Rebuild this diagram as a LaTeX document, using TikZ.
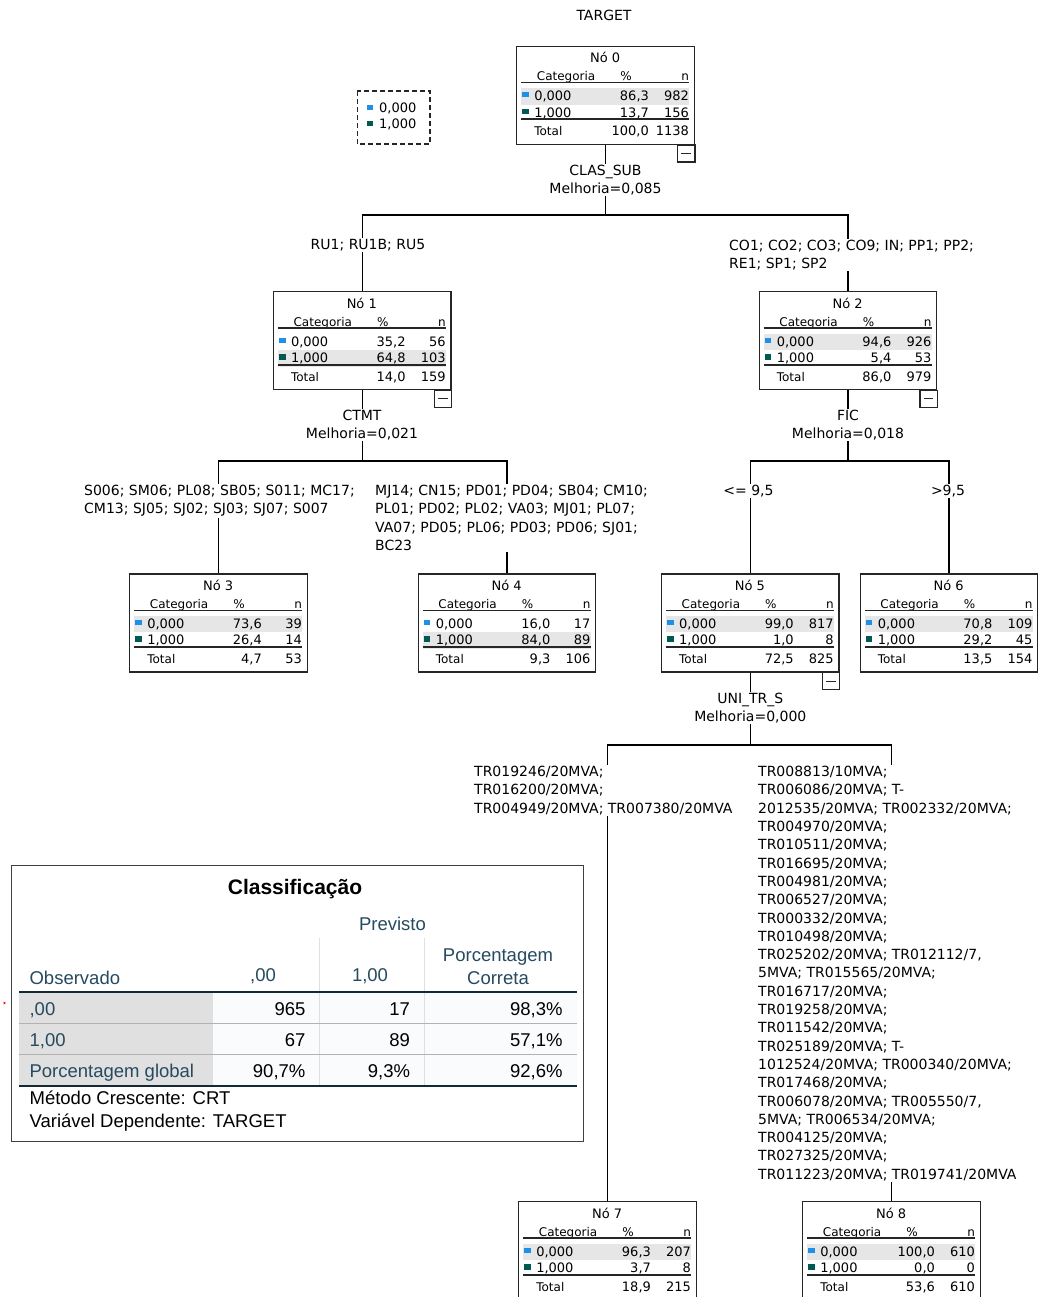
\documentclass[tikz,border=0pt]{standalone}
\usepackage{fontspec}
\setmainfont{Liberation Sans}
\newfontfamily\arvfont{DejaVu Sans}
\usepackage{xcolor}
\usetikzlibrary{calc, positioning}

\definecolor{azulcat}{RGB}{30,144,232}
\definecolor{verdecat}{RGB}{0,90,82}
\definecolor{cinzadest}{RGB}{230,230,230}
\definecolor{azulspss}{RGB}{38,74,96}
\definecolor{linhaspss}{RGB}{21,41,53}
\definecolor{cinzarot}{RGB}{224,224,224}
\definecolor{fundocel}{RGB}{249,251,252}

% nó da árvore: numero, posicao (topo), linha destacada, %/n das categorias, total
\newcommand{\noarv}[9]{%
  \node[caixa] (n#1) at (#2) {};
  \fill[cinzadest] ($(n#1.north west)+(5,{25.9+16.6*#3})$) rectangle ++(168,16.6);
  \node[titno] (n#1-tit) at ($(n#1.north west)+(89,12)$) {Nó #1};
  \node[cab] (n#1-cat) at ($(n#1.north west)+(50,32.5)$) {Categoria};
  \node[cab] (n#1-pc) at ($(n#1.north west)+(110,32.5)$) {\%};
  \node[cab, anchor=mid east] (n#1-n) at ($(n#1.north west)+(173,32.5)$) {n};
  \draw[regra] ($(n#1.north west)+(5,37)$) -- ++(168,0);
  \fill[azulcat] ($(n#1.north west)+(6,46.5)$) rectangle ++(6.7,5);
  \node[dado, anchor=mid west] (n#1-c0) at ($(n#1.north west)+(18,52.5)$) {0,000};
  \node[dado, anchor=mid east] (n#1-p0) at ($(n#1.north west)+(133,52.5)$) {#4};
  \node[dado, anchor=mid east] (n#1-q0) at ($(n#1.north west)+(173,52.5)$) {#5};
  \fill[verdecat] ($(n#1.north west)+(6,63)$) rectangle ++(6.7,5.5);
  \node[dado, anchor=mid west] (n#1-c1) at ($(n#1.north west)+(18,69)$) {1,000};
  \node[dado, anchor=mid east] (n#1-p1) at ($(n#1.north west)+(133,69)$) {#6};
  \node[dado, anchor=mid east] (n#1-q1) at ($(n#1.north west)+(173,69)$) {#7};
  \draw[regra, line width=2pt] ($(n#1.north west)+(5,73.8)$) -- ++(168,0);
  \node[cab, anchor=mid west] (n#1-tl) at ($(n#1.north west)+(18,87.5)$) {Total};
  \node[dado, anchor=mid east] (n#1-pt) at ($(n#1.north west)+(133,87.5)$) {#8};
  \node[dado, anchor=mid east] (n#1-qt) at ($(n#1.north west)+(173,87.5)$) {#9};
}
% caixinha de recolher
\newcommand{\menos}[1]{%
  \draw[regra] ($(#1.south east)+(-17.5,0)$) rectangle ++(17.5,17);
  \draw[regra] ($(#1.south east)+(-13.5,8.5)$) -- ++(9.5,0);
}

\begin{document}
\begin{tikzpicture}[x=1pt, y=-1pt,
    caixa/.style={draw=black!85, line width=1.3pt, minimum width=177.5pt, minimum height=98pt, inner sep=0pt, anchor=north},
    titno/.style={font=\arvfont\fontsize{13}{15}\selectfont, inner sep=0pt},
    cab/.style={font=\arvfont\fontsize{12}{14}\selectfont, inner sep=0pt, anchor=mid},
    dado/.style={font=\arvfont\fontsize{13}{15}\selectfont, inner sep=0pt},
    regra/.style={black!85, line width=1.2pt},
    liga/.style={black, line width=1.4pt},
    rotulo/.style={font=\arvfont\fontsize{14}{18.3}\selectfont, fill=white, inner sep=1pt, align=left},
    rotuloc/.style={rotulo, align=center},
    tab/.style={font=\fontsize{18.5}{23}\selectfont, inner sep=0pt, text=black},
    tabcab/.style={tab, text=azulspss}]

    \useasboundingbox (0,0) rectangle (1040,1297);
    \fill[white] (0,0) rectangle (1040,1297);

    % 1. Título e legenda
    \node[rotulo, fill=none, anchor=mid] (alvo) at (604,18) {TARGET};
    \draw[black!85, line width=1.2pt, dash pattern=on 5pt off 3pt] (357.3,91) rectangle (430,144);
    \fill[azulcat] (366.7,105.5) rectangle (373.3,110.5);
    \node[dado, anchor=mid west] (leg0) at (379,109.8) {0,000};
    \fill[verdecat] (366.7,121.5) rectangle (373.3,126.5);
    \node[dado, anchor=mid west] (leg1) at (379,125.8) {1,000};

    % 2. Nós da árvore
    \noarv{0}{605.5,45.7}{1}{86,3}{982}{13,7}{156}{100,0}{1138}
    \noarv{1}{362.2,291}{2}{35,2}{56}{64,8}{103}{14,0}{159}
    \noarv{2}{848,291}{1}{94,6}{926}{5,4}{53}{86,0}{979}
    \noarv{3}{218.5,573.3}{1}{73,6}{39}{26,4}{14}{4,7}{53}
    \noarv{4}{507,573.3}{2}{16,0}{17}{84,0}{89}{9,3}{106}
    \noarv{5}{750.3,573.3}{1}{99,0}{817}{1,0}{8}{72,5}{825}
    \noarv{6}{949,573.3}{1}{70,8}{109}{29,2}{45}{13,5}{154}
    \noarv{7}{607.5,1201}{1}{96,3}{207}{3,7}{8}{18,9}{215}
    \noarv{8}{891.5,1201}{1}{100,0}{610}{0,0}{0}{53,6}{610}
    \foreach \k in {0,1,2,5} \menos{n\k};

    % 3. Ligações
    \coordinate (j0) at (605.5,215);
    \coordinate (j1) at (362.2,461);
    \coordinate (j2) at (848,461);
    \coordinate (j5) at (750.3,745);
    \draw[liga] (n0.south) -- (j0);
    \draw[liga] (j0) -| (n1.north);
    \draw[liga] (j0) -| (n2.north);
    \draw[liga] (n1.south) -- (j1);
    \draw[liga] (j1) -| (n3.north);
    \draw[liga] (j1) -| (n4.north);
    \draw[liga] (n2.south) -- (j2);
    \draw[liga] (j2) -| (n5.north);
    \draw[liga] (j2) -| (n6.north);
    \draw[liga] (n5.south) -- (j5);
    \draw[liga] (j5) -| (n7.north);
    \draw[liga] (j5) -| (n8.north);

    % 4. Rótulos das divisões
    \node[rotuloc] (div0) at (605.5,180) {CLAS\_SUB\\Melhoria=0,085};
    \node[rotulo, anchor=mid] (r1) at (368,247) {RU1; RU1B; RU5};
    \node[rotulo, anchor=north west] (r2) at (728,238.5) {CO1; CO2; CO3; CO9; IN; PP1; PP2;\\RE1; SP1; SP2};
    \node[rotuloc] (div1) at (362,425) {CTMT\\Melhoria=0,021};
    \node[rotuloc] (div2) at (848,425) {FIC\\Melhoria=0,018};
    \node[rotulo, anchor=north west] (r3) at (83,484) {S006; SM06; PL08; SB05; S011; MC17;\\CM13; SJ05; SJ02; SJ03; SJ07; S007};
    \node[rotulo, anchor=north west] (r4) at (374,484) {MJ14; CN15; PD01; PD04; SB04; CM10;\\PL01; PD02; PL02; VA03; MJ01; PL07;\\VA07; PD05; PL06; PD03; PD06; SJ01;\\BC23};
    \node[rotulo, anchor=mid] (r5) at (748.5,493) {<= 9,5};
    \node[rotulo, anchor=mid] (r6) at (948,493) {>9,5};
    \node[rotuloc] (div5) at (750.3,708) {UNI\_TR\_S\\Melhoria=0,000};
    \node[rotulo, anchor=north west] (r7) at (473,765) {TR019246/20MVA;\\TR016200/20MVA;\\TR004949/20MVA; TR007380/20MVA};
    \node[rotulo, anchor=north west] (r8) at (757,765) {TR008813/10MVA;\\TR006086/20MVA; T-\\2012535/20MVA; TR002332/20MVA;\\TR004970/20MVA;\\TR010511/20MVA;\\TR016695/20MVA;\\TR004981/20MVA;\\TR006527/20MVA;\\TR000332/20MVA;\\TR010498/20MVA;\\TR025202/20MVA; TR012112/7,\\5MVA; TR015565/20MVA;\\TR016717/20MVA;\\TR019258/20MVA;\\TR011542/20MVA;\\TR025189/20MVA; T-\\1012524/20MVA; TR000340/20MVA;\\TR017468/20MVA;\\TR006078/20MVA; TR005550/7,\\5MVA; TR006534/20MVA;\\TR004125/20MVA;\\TR027325/20MVA;\\TR011223/20MVA; TR019741/20MVA};

    % 5. Tabela de classificação
    \draw[black!75, line width=1.3pt] (11.3,865.6) rectangle (583.4,1141.3);
    \node[tab, font=\bfseries\fontsize{21}{25}\selectfont] (tabtit) at (295,889) {Classificação};
    \node[tabcab, anchor=mid] (prev) at (392.5,927.5) {Previsto};
    \fill[cinzarot] (18.8,992.3) rectangle (212.6,1085.7);
    \fill[fundocel] (212.6,992.3) rectangle (577,1085.7);
    \draw[cinzarot, line width=1pt] (319.2,938) -- (319.2,1085.7);
    \draw[cinzarot, line width=1pt] (424.5,938) -- (424.5,1085.7);
    \draw[black!30, line width=1.3pt] (18.8,1023.3) -- (577,1023.3);
    \draw[black!30, line width=1.3pt] (18.8,1054.3) -- (577,1054.3);
    \draw[linhaspss, line width=1.8pt] (18.8,992.3) -- (577,992.3);
    \draw[linhaspss, line width=1.8pt] (18.8,1085.7) -- (577,1085.7);
    \node[tabcab, anchor=mid west] (obs) at (29.4,981.5) {Observado};
    \node[tabcab, anchor=mid] (h0) at (263,979) {,00};
    \node[tabcab, anchor=mid] (h1) at (370,979) {1,00};
    \node[tabcab, align=center] (h2) at (498,966.5) {Porcentagem\\Correta};
    \foreach \rot/\a/\b/\c [count=\i] in {{,00}/965/17/{98,3\%}, {1,00}/67/89/{57,1\%}, {Porcentagem global}/{90,7\%}/{9,3\%}/{92,6\%}} {
        \node[tabcab, anchor=mid west] (lin\i) at (29.4,{982+31*\i}) {\rot};
        \node[tab, anchor=mid east] (va\i) at (305.6,{982+31*\i}) {\a};
        \node[tab, anchor=mid east] (vb\i) at (410.2,{982+31*\i}) {\b};
        \node[tab, anchor=mid east] (vc\i) at (562.7,{982+31*\i}) {\c};
    }
    \node[tab, anchor=mid west] (nota1) at (29.4,1101.5) {Método Crescente: CRT};
    \node[tab, anchor=mid west] (nota2) at (29.4,1125) {Variável Dependente: TARGET};
    \fill[red] (3.5,1001.5) -- (6,1003) -- (3.5,1004.5) -- cycle;

\end{tikzpicture}
\end{document}
